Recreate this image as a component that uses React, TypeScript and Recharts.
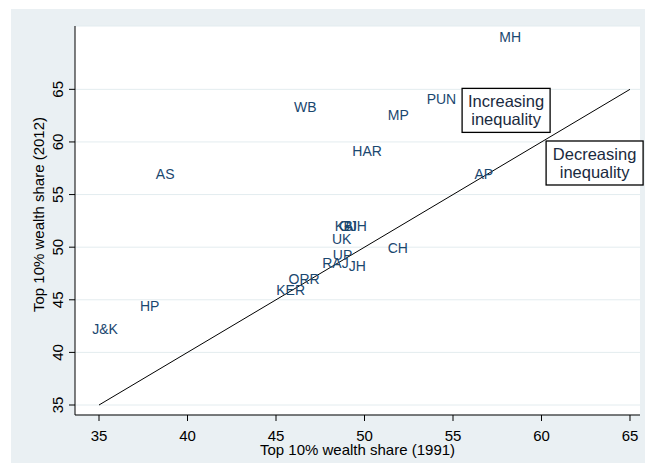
import {
  ScatterChart,
  Scatter,
  XAxis,
  YAxis,
  CartesianGrid,
  ReferenceLine,
  ReferenceDot,
  Label,
} from 'recharts';

const states = ['MH', 'PUN', 'WB', 'MP', 'HAR', 'AS', 'AP', 'KA', 'GJ', 'BIH', 'UK', 'UP', 'RAJ', 'JH', 'CH', 'ORR', 'KER', 'HP', 'J&K'];
const share1991 = [57.5, 53.4, 45.9, 51.2, 49.2, 38.1, 56.1, 48.2, 48.45, 48.7, 48.05, 48.1, 47.5, 49.0, 51.2, 45.6, 44.9, 37.2, 34.5];
const share2012 = [70.0, 64.1, 63.3, 62.6, 59.1, 56.95, 57.0, 52.0, 52.0, 52.0, 50.8, 49.25, 48.5, 48.2, 49.9, 47.0, 45.9, 44.4, 42.2];

const xTicks = [35, 40, 45, 50, 55, 60, 65];
const yTicks = [35, 40, 45, 50, 55, 60, 65];

const notes = [
  { x: 58, y: 63, lines: ['Increasing', 'inequality'] },
  { x: 63, y: 58, lines: ['Decreasing', 'inequality'] },
];

const data = states.map((s, i) => ({ state: s, x: share1991[i], y: share2012[i] }));

const FONT = '"Liberation Sans", Arial, sans-serif';
const BG = '#eaf0f3';

function StateLabel(props: any) {
  const { cx, cy, payload } = props;
  return (
    <text x={cx + 2} y={cy} dominantBaseline="central" fontSize={14} fill="#1a476f" fontFamily={FONT}>
      {payload.state}
    </text>
  );
}

function YTick(props: any) {
  const { x, y, payload } = props;
  return (
    <text
      x={x}
      y={y}
      transform={`rotate(-90, ${x}, ${y})`}
      textAnchor="middle"
      fontSize={15}
      fill="#000"
      fontFamily={FONT}
    >
      {payload.value}
    </text>
  );
}

function NoteBox(props: any, lines: string[], w: number) {
  const { cx, cy } = props;
  const h = 44;
  return (
    <g>
      <rect x={cx - w / 2} y={cy - h / 2} width={w} height={h} fill="#fff" stroke="#000" strokeWidth={1.3} />
      {lines.map((t, i) => (
        <text
          key={t}
          x={cx}
          y={cy - 9 + i * 18}
          textAnchor="middle"
          dominantBaseline="central"
          fontSize={16.5}
          fill="#1a2a40"
          fontFamily={FONT}
        >
          {t}
        </text>
      ))}
    </g>
  );
}

export default function App() {
  return (
    <div style={{ position: 'absolute', left: 0, top: 0, width: 648, height: 472, background: '#fff' }}>
      <div style={{ position: 'absolute', left: 11, top: 9, width: 634, height: 454, background: BG }} />
      <div style={{ position: 'absolute', left: 0, top: 0 }}>
        <ScatterChart width={648} height={472} margin={{ top: 26, right: 8, bottom: 0, left: 0 }}>
          <CartesianGrid vertical={false} stroke="#e3ecef" fill="#fff" />
          <XAxis
            type="number"
            dataKey="x"
            domain={[33.644, 65.565]}
            ticks={xTicks}
            allowDataOverflow
            height={57}
            tickSize={6}
            tickMargin={9}
            stroke="#000"
            tick={{ fontSize: 15, fill: '#000', fontFamily: FONT }}
          >
            <Label
              content={({ viewBox }: any) => (
                <text
                  x={viewBox.x + viewBox.width / 2}
                  y={viewBox.y + 34}
                  textAnchor="middle"
                  dominantBaseline="central"
                  fontSize={15}
                  fill="#000"
                  fontFamily={FONT}
                >
                  Top 10% wealth share (1991)
                </text>
              )}
            />
          </XAxis>
          <YAxis
            type="number"
            dataKey="y"
            domain={[34.05, 71.02]}
            ticks={yTicks}
            allowDataOverflow
            width={75}
            tickSize={6}
            tickMargin={6}
            stroke="#000"
            tick={<YTick />}
          >
            <Label
              content={({ viewBox }: any) => {
                const cy = viewBox.y + viewBox.height / 2 - 6;
                return (
                  <text
                    x={38}
                    y={cy}
                    transform={`rotate(-90, 38, ${cy})`}
                    textAnchor="middle"
                    dominantBaseline="central"
                    fontSize={15}
                    fill="#000"
                    fontFamily={FONT}
                  >
                    Top 10% wealth share (2012)
                  </text>
                );
              }}
            />
          </YAxis>
          <ReferenceLine
            segment={[
              { x: 35, y: 35 },
              { x: 65, y: 65 },
            ]}
            stroke="#000"
            strokeWidth={1}
          />
          <Scatter data={data} isAnimationActive={false} shape={<StateLabel />} />
          {notes.map((n, i) => (
            <ReferenceDot
              key={i}
              x={n.x}
              y={n.y}
              ifOverflow="visible"
              shape={(p: any) => NoteBox(p, n.lines, i === 0 ? 88 : 97)}
            />
          ))}
        </ScatterChart>
      </div>
    </div>
  );
}
